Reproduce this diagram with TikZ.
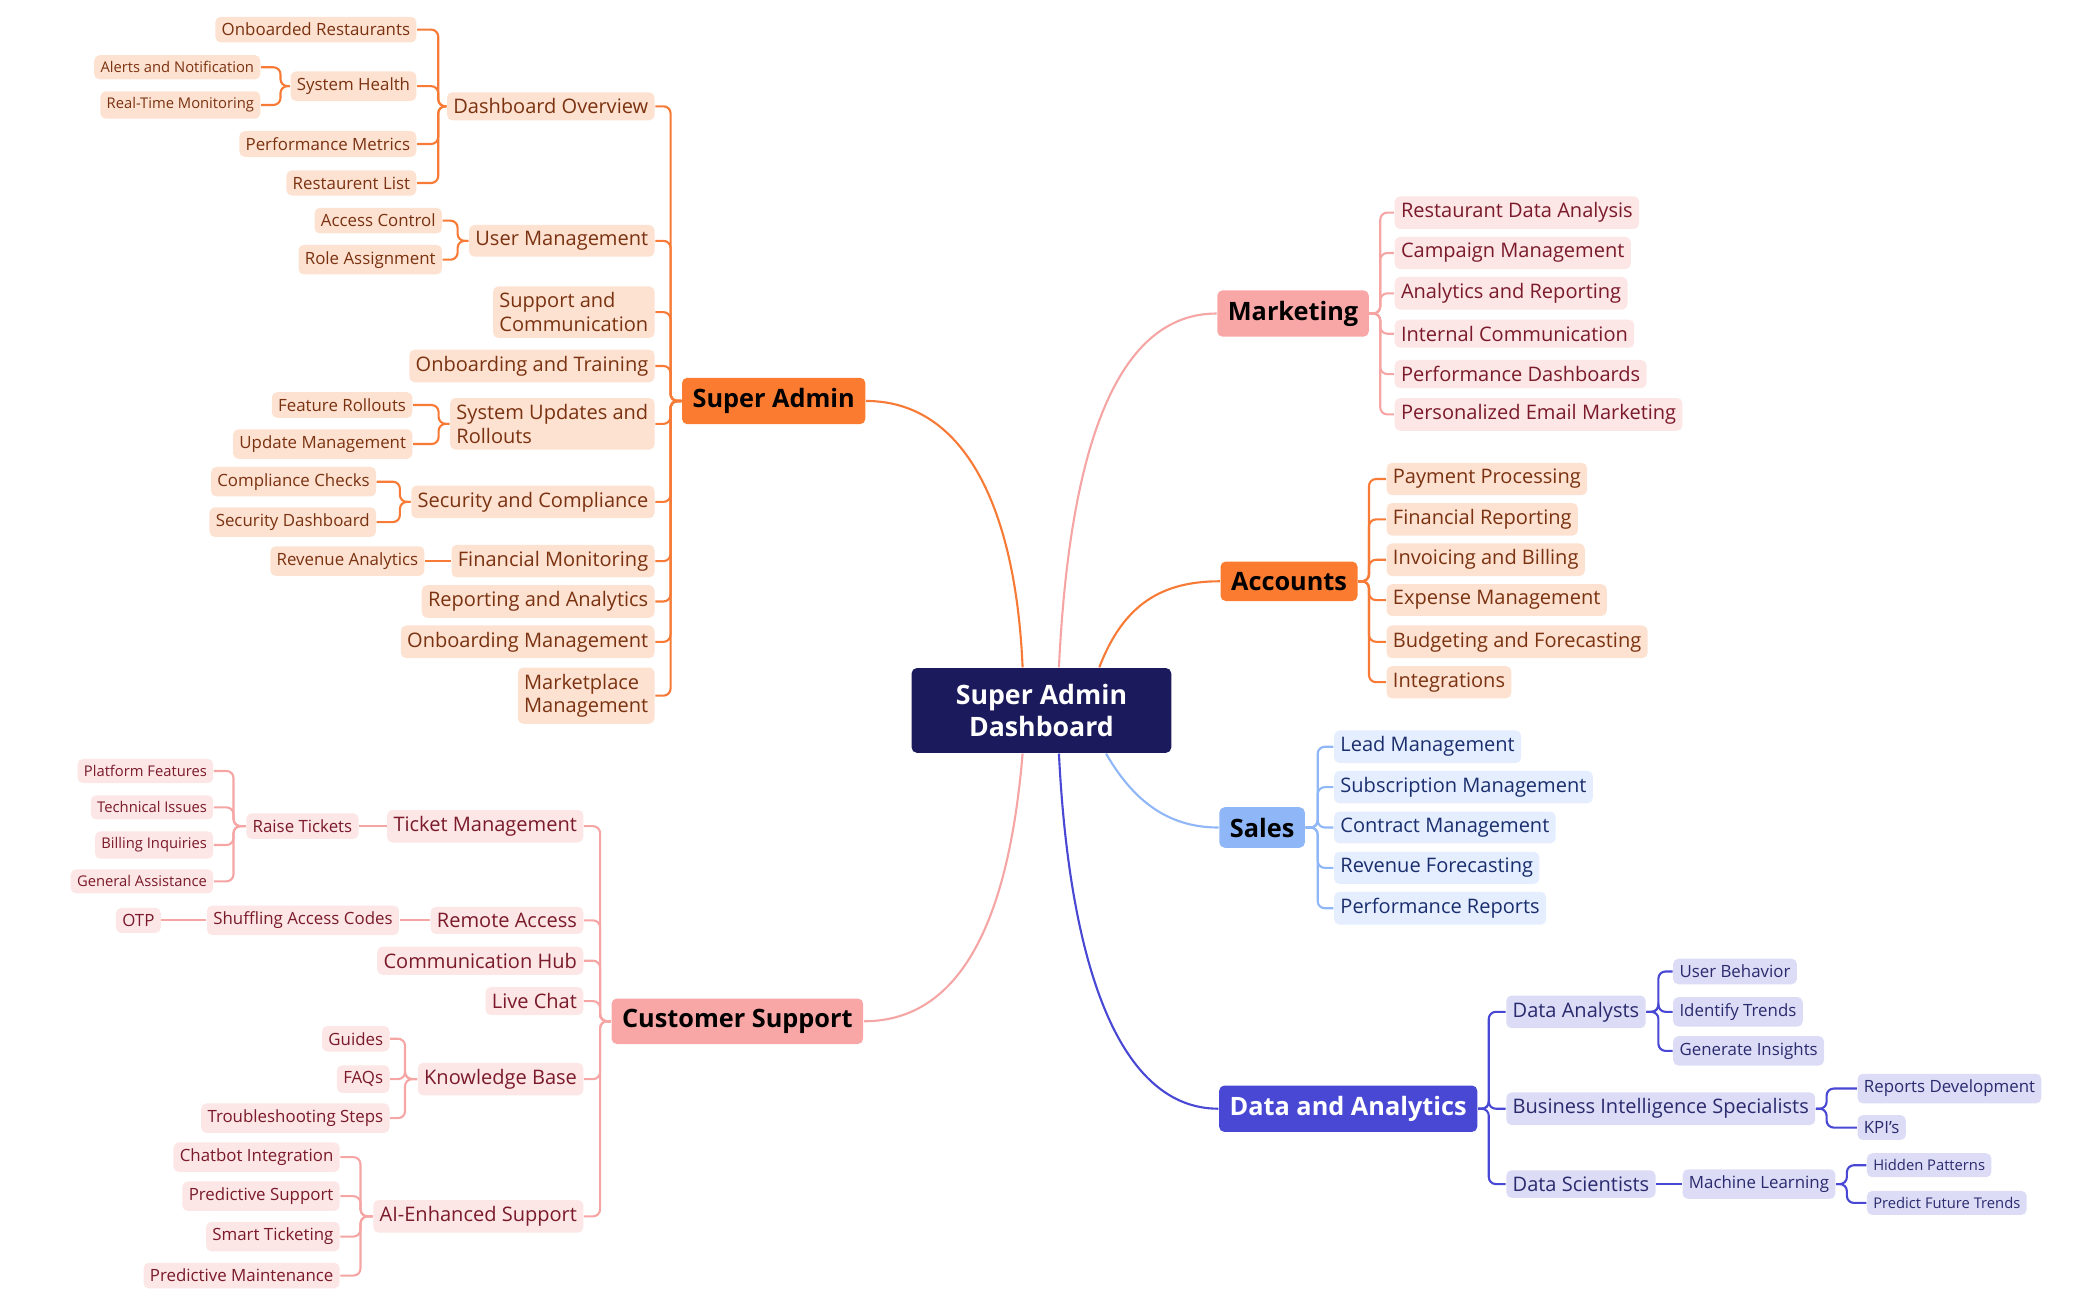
\documentclass[tikz,border=0pt]{standalone}
\usepackage{fontspec}
\setmainfont{Open Sans}
\usetikzlibrary{calc,positioning}
\definecolor{ctrFill}{HTML}{1B1A5C}
\definecolor{orFill}{HTML}{FB7B30}
\definecolor{orLine}{HTML}{F77B36}
\definecolor{orSoft}{HTML}{FDE2D2}
\definecolor{orText}{HTML}{7A3210}
\definecolor{pkFill}{HTML}{F8A6A6}
\definecolor{pkLine}{HTML}{F6A5A5}
\definecolor{pkSoft}{HTML}{FDE6E6}
\definecolor{pkText}{HTML}{7A1A2A}
\definecolor{blFill}{HTML}{8FB7F7}
\definecolor{blSoft}{HTML}{E5EEFF}
\definecolor{blText}{HTML}{1A2E6E}
\definecolor{dkFill}{HTML}{4848D4}
\definecolor{dkSoft}{HTML}{DCDCF6}
\definecolor{dkText}{HTML}{2A2A6E}
\tikzset{
  nd/.style={rectangle, rounded corners=1.5pt, inner sep=1.8pt, align=left},
  lvA/.style={nd, font=\fontsize{5.7}{6.7}\selectfont},
  lvB/.style={nd, font=\fontsize{4.8}{5.8}\selectfont},
  lvC/.style={nd, font=\fontsize{4.2}{5}\selectfont},
  big/.style={nd, inner sep=3pt, font=\fontsize{7.2}{9}\selectfont\bfseries},
  orN/.style={fill=orSoft, text=orText},
  pkN/.style={fill=pkSoft, text=pkText},
  blN/.style={fill=blSoft, text=blText},
  dkN/.style={fill=dkSoft, text=dkText},
  orL/.style={draw=orLine, line width=0.6pt, rounded corners=2pt},
  pkL/.style={draw=pkLine, line width=0.6pt, rounded corners=2pt},
  blL/.style={draw=blFill, line width=0.6pt, rounded corners=2pt},
  dkL/.style={draw=dkFill, line width=0.6pt, rounded corners=2pt}
}
% brackets: style, parent, stub length, children
\newcommand{\lbr}[4]{\foreach \c in {#4} \draw[#1] (#2.west) -- ++(-#3,0) |- (\c.east);}
\newcommand{\rbr}[4]{\foreach \c in {#4} \draw[#1] (#2.east) -- ++(#3,0) |- (\c.west);}
\begin{document}
\begin{tikzpicture}[x=0.013455cm, y=-0.013455cm]
\useasboundingbox (0,0) rectangle (1560,966);
% centre and main branches
\node[nd, fill=ctrFill, text=white, align=center, minimum width=2.597cm, minimum height=0.848cm,
  font=\fontsize{7.6}{9.2}\selectfont\bfseries] (ctr) at (774,528) {Super Admin\\Dashboard};
\node[big, fill=orFill] (sadm) at (575,298) {Super Admin};
\node[big, fill=pkFill] (mkt) at (961,233) {Marketing};
\node[big, fill=orFill] (acc) at (958,432) {Accounts};
\node[big, fill=blFill] (sal) at (938,615) {Sales};
\node[big, fill=dkFill, text=white] (dan) at (1002,824) {Data and Analytics};
\node[big, fill=pkFill] (csup) at (548,759) {Customer Support};
\draw[orL] ($(ctr.north)+(-14,0)$) .. controls +(-5,-117) and +(74,0) .. (sadm.east);
\draw[pkL] ($(ctr.north)+(13,0)$) .. controls +(8,-167) and +(-73,0) .. (mkt.west);
\draw[orL] ($(ctr.north)+(43,0)$) .. controls +(18,-47) and +(-43,0) .. (acc.west);
\draw[blL] ($(ctr.south)+(48,0)$) .. controls +(23,40) and +(-33,0) .. (sal.west);
\draw[dkL] ($(ctr.south)+(13,0)$) .. controls +(8,160) and +(-73,0) .. (dan.west);
\draw[pkL] ($(ctr.south)+(-14,0)$) .. controls +(-10,120) and +(74,0) .. (csup.east);
% Super Admin
\node[lvA, orN, anchor=east] (dov) at (487,79) {Dashboard Overview};
\node[lvA, orN, anchor=east] (umg) at (487,179) {User Management};
\node[lvA, orN, anchor=east] (suc) at (487,232) {Support and\\Communication};
\node[lvA, orN, anchor=east] (obt) at (487,272) {Onboarding and Training};
\node[lvA, orN, anchor=east] (sur) at (487,315) {System Updates and\\Rollouts};
\node[lvA, orN, anchor=east] (sec) at (487,373) {Security and Compliance};
\node[lvA, orN, anchor=east] (fin) at (487,417) {Financial Monitoring};
\node[lvA, orN, anchor=east] (rep) at (487,447) {Reporting and Analytics};
\node[lvA, orN, anchor=east] (obm) at (487,477) {Onboarding Management};
\node[lvA, orN, anchor=east] (mpm) at (487,517) {Marketplace\\Management};
\lbr{orL}{sadm}{8}{dov,umg,suc,obt,sur,sec,fin,rep,obm,mpm}
\node[lvB, orN, anchor=east] (onr) at (310,22) {Onboarded Restaurants};
\node[lvB, orN, anchor=east] (syh) at (310,64) {System Health};
\node[lvB, orN, anchor=east] (pfm) at (310,107) {Performance Metrics};
\node[lvB, orN, anchor=east] (rsl) at (310,136) {Restaurent List};
\lbr{orL}{dov}{6}{onr,syh,pfm,rsl}
\node[lvC, orN, anchor=east] (aln) at (194,50) {Alerts and Notification};
\node[lvC, orN, anchor=east] (rtm) at (194,78) {Real-Time Monitoring};
\lbr{orL}{syh}{7}{aln,rtm}
\node[lvB, orN, anchor=east] (acc1) at (329,164) {Access Control};
\node[lvB, orN, anchor=east] (rla) at (329,193) {Role Assignment};
\lbr{orL}{umg}{8}{acc1,rla}
\node[lvB, orN, anchor=east] (fro) at (307,301) {Feature Rollouts};
\node[lvB, orN, anchor=east] (upm) at (307,330) {Update Management};
\lbr{orL}{sur}{8}{fro,upm}
\node[lvB, orN, anchor=east] (cmc) at (280,358) {Compliance Checks};
\node[lvB, orN, anchor=east] (sdb) at (280,388) {Security Dashboard};
\lbr{orL}{sec}{8}{cmc,sdb}
\node[lvB, orN, anchor=east] (rva) at (316,417) {Revenue Analytics};
\draw[orL] (fin) -- (rva);
% Marketing
\node[lvA, pkN, anchor=west] (m1) at (1036,158) {Restaurant Data Analysis};
\node[lvA, pkN, anchor=west] (m2) at (1036,188) {Campaign Management};
\node[lvA, pkN, anchor=west] (m3) at (1036,218) {Analytics and Reporting};
\node[lvA, pkN, anchor=west] (m4) at (1036,248) {Internal Communication};
\node[lvA, pkN, anchor=west] (m5) at (1036,278) {Performance Dashboards};
\node[lvA, pkN, anchor=west] (m6) at (1036,308) {Personalized Email Marketing};
\rbr{pkL}{mkt}{8}{m1,m2,m3,m4,m5,m6}
% Accounts
\node[lvA, orN, anchor=west] (a1) at (1030,356) {Payment Processing};
\node[lvA, orN, anchor=west] (a2) at (1030,386) {Financial Reporting};
\node[lvA, orN, anchor=west] (a3) at (1030,416) {Invoicing and Billing};
\node[lvA, orN, anchor=west] (a4) at (1030,446) {Expense Management};
\node[lvA, orN, anchor=west] (a5) at (1030,477) {Budgeting and Forecasting};
\node[lvA, orN, anchor=west] (a6) at (1030,507) {Integrations};
\rbr{orL}{acc}{8}{a1,a2,a3,a4,a5,a6}
% Sales
\node[lvA, blN, anchor=west] (s1) at (991,555) {Lead Management};
\node[lvA, blN, anchor=west] (s2) at (991,585) {Subscription Management};
\node[lvA, blN, anchor=west] (s3) at (991,615) {Contract Management};
\node[lvA, blN, anchor=west] (s4) at (991,645) {Revenue Forecasting};
\node[lvA, blN, anchor=west] (s5) at (991,675) {Performance Reports};
\rbr{blL}{sal}{9}{s1,s2,s3,s4,s5}
% Data and Analytics
\node[lvA, dkN, anchor=west] (dna) at (1119,752) {Data Analysts};
\node[lvA, dkN, anchor=west] (bis) at (1119,824) {Business Intelligence Specialists};
\node[lvA, dkN, anchor=west] (dsc) at (1119,880) {Data Scientists};
\rbr{dkL}{dan}{8}{dna,bis,dsc}
\node[lvB, dkN, anchor=west] (ubh) at (1243,722) {User Behavior};
\node[lvB, dkN, anchor=west] (idt) at (1243,752) {Identify Trends};
\node[lvB, dkN, anchor=west] (gin) at (1243,781) {Generate Insights};
\rbr{dkL}{dna}{9}{ubh,idt,gin}
\node[lvB, dkN, anchor=west] (rpd) at (1380,809) {Reports Development};
\node[lvB, dkN, anchor=west] (kpi) at (1380,838) {KPI's};
\rbr{dkL}{bis}{8}{rpd,kpi}
\node[lvB, dkN, anchor=west] (mlr) at (1250,880) {Machine Learning};
\draw[dkL] (dsc) -- (mlr);
\node[lvC, dkN, anchor=west] (hdp) at (1387,866) {Hidden Patterns};
\node[lvC, dkN, anchor=west] (pft) at (1387,894) {Predict Future Trends};
\rbr{dkL}{mlr}{8}{hdp,pft}
% Customer Support
\node[lvA, pkN, anchor=east] (tkm) at (434,614) {Ticket Management};
\node[lvA, pkN, anchor=east] (rma) at (434,684) {Remote Access};
\node[lvA, pkN, anchor=east] (chb) at (434,714) {Communication Hub};
\node[lvA, pkN, anchor=east] (lvc) at (434,744) {Live Chat};
\node[lvA, pkN, anchor=east] (knb) at (434,802) {Knowledge Base};
\node[lvA, pkN, anchor=east] (aie) at (434,904) {AI-Enhanced Support};
\lbr{pkL}{csup}{8}{tkm,rma,chb,lvc,knb,aie}
\node[lvB, pkN, anchor=east] (rtk) at (267,614) {Raise Tickets};
\draw[pkL] (tkm) -- (rtk);
\node[lvC, pkN, anchor=east] (plf) at (159,573) {Platform Features};
\node[lvC, pkN, anchor=east] (tci) at (159,600) {Technical Issues};
\node[lvC, pkN, anchor=east] (bin) at (159,628) {Billing Inquiries};
\node[lvC, pkN, anchor=east] (gas) at (159,655) {General Assistance};
\lbr{pkL}{rtk}{9}{plf,tci,bin,gas}
\node[lvB, pkN, anchor=east] (sac) at (297,684) {Shuffling Access Codes};
\draw[pkL] (rma) -- (sac);
\node[lvB, pkN, anchor=east] (otp) at (120,684) {OTP};
\draw[pkL] (sac) -- (otp);
\node[lvB, pkN, anchor=east] (gds) at (290,772) {Guides};
\node[lvB, pkN, anchor=east] (faq) at (290,802) {FAQs};
\node[lvB, pkN, anchor=east] (tbs) at (290,831) {Troubleshooting Steps};
\lbr{pkL}{knb}{9}{gds,faq,tbs}
\node[lvB, pkN, anchor=east] (cbi) at (253,860) {Chatbot Integration};
\node[lvB, pkN, anchor=east] (pds) at (253,889) {Predictive Support};
\node[lvB, pkN, anchor=east] (smt) at (253,919) {Smart Ticketing};
\node[lvB, pkN, anchor=east] (pdm) at (253,948) {Predictive Maintenance};
\lbr{pkL}{aie}{9}{cbi,pds,smt,pdm}
\end{tikzpicture}
\end{document}
